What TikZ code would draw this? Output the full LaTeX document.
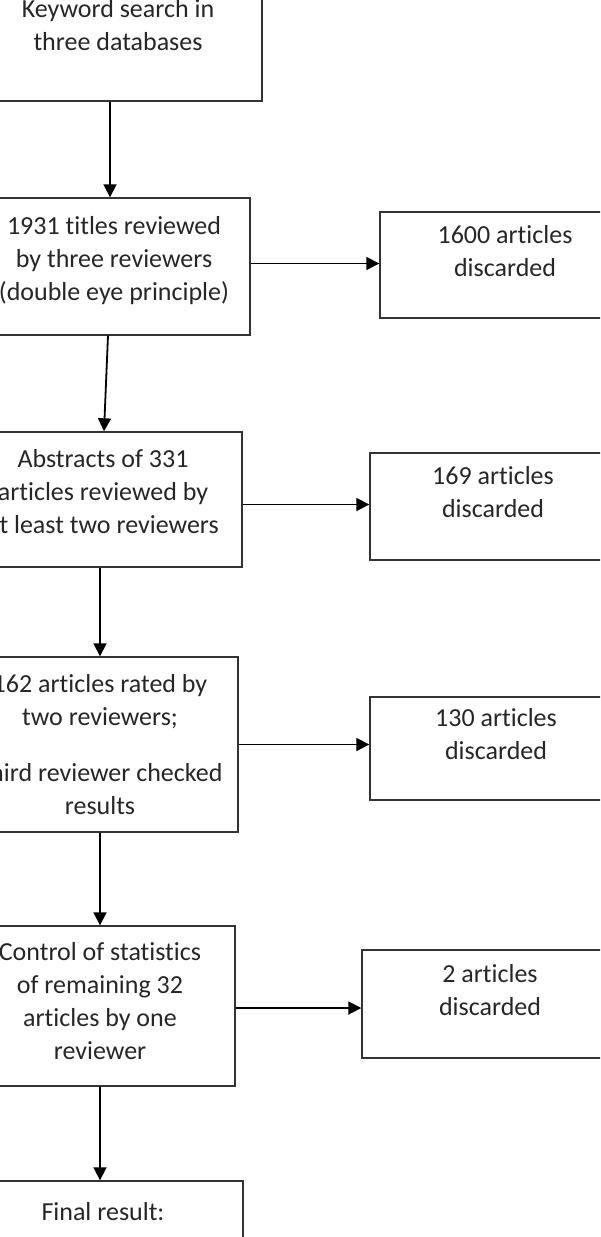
\documentclass[tikz,border=0pt]{standalone}
\usepackage{fontspec}
\setmainfont[Ligatures=NoCommon]{Carlito}
\usepackage{xcolor}
\usepackage{tikz}
\usetikzlibrary{arrows.meta, calc}

\begin{document}
\begin{tikzpicture}[x=1pt, y=-1pt,
		stepbox/.style={draw=black!80, line width=1.4pt, rectangle, inner sep=0pt, align=center, text=black!85, font=\fontsize{26}{33}\selectfont},
		arr/.style={line width=1.8pt, -{Triangle[width=13pt, length=13pt]}}]
	\useasboundingbox (0,0) rectangle (600,1237);
	\clip (0,0) rectangle (600,1237);
	% left column
	\node[stepbox, minimum width=288pt, minimum height=152pt] (search) at (118,25) {Keyword search in\\three databases};
	\node[stepbox, minimum width=272pt, minimum height=137pt] (titles) at (114,266.5) {1931 titles reviewed\\by three reviewers\\(double eye principle)\\[-27pt]\strut};
	\node[stepbox, minimum width=278pt, minimum height=135pt] (abstr) at (103,499.5) {Abstracts of 331\\articles reviewed by\\at least two reviewers\\[-27pt]\strut};
	\node[stepbox, minimum width=276pt, minimum height=175pt] (rated) at (100,744.5) {162 articles rated by\\two reviewers;\\[23pt]Third reviewer checked\\results};
	\node[stepbox, minimum width=270pt, minimum height=160pt] (stats) at (100,1006) {Control of statistics\\of remaining 32\\articles by one\\reviewer\\[-33pt]\strut};
	\node[stepbox, minimum width=280pt, minimum height=62pt] (final) at (103,1212) {Final result:};
	% right column
	\node[stepbox, minimum width=250pt, minimum height=106pt] (discA) at (505,265) {1600 articles\\discarded\\[-14pt]\strut};
	\node[stepbox, minimum width=246pt, minimum height=107pt] (discB) at (493,506.5) {169 articles\\discarded\\[-14pt]\strut};
	\node[stepbox, minimum width=252pt, minimum height=103pt] (discC) at (496,748.5) {130 articles\\discarded\\[-14pt]\strut};
	\node[stepbox, minimum width=256pt, minimum height=108pt] (discD) at (490,1004) {2 articles\\discarded\\[-14pt]\strut};
	% arrows down
	\draw[arr] ([xshift=-8pt]search.south) -- ([xshift=-4pt]titles.north);
	\draw[arr] ([xshift=-6pt]titles.south) -- ([xshift=1pt]abstr.north);
	\draw[arr] ([xshift=-3pt]abstr.south) -- (rated.north);
	\draw[arr] (rated.south) -- (stats.north);
	\draw[arr] (stats.south) -- ([xshift=-3pt]final.north);
	% arrows right
	\draw[arr] ([yshift=3pt]titles.east) -- ([yshift=3pt]titles.east -| discA.west);
	\draw[arr] ([yshift=-5pt]abstr.east) -- ([yshift=-5pt]abstr.east -| discB.west);
	\draw[arr] (rated.east) -- (rated.east -| discC.west);
	\draw[arr] ([yshift=-2pt]stats.east) -- ([yshift=-2pt]stats.east -| discD.west);
\end{tikzpicture}
\end{document}
